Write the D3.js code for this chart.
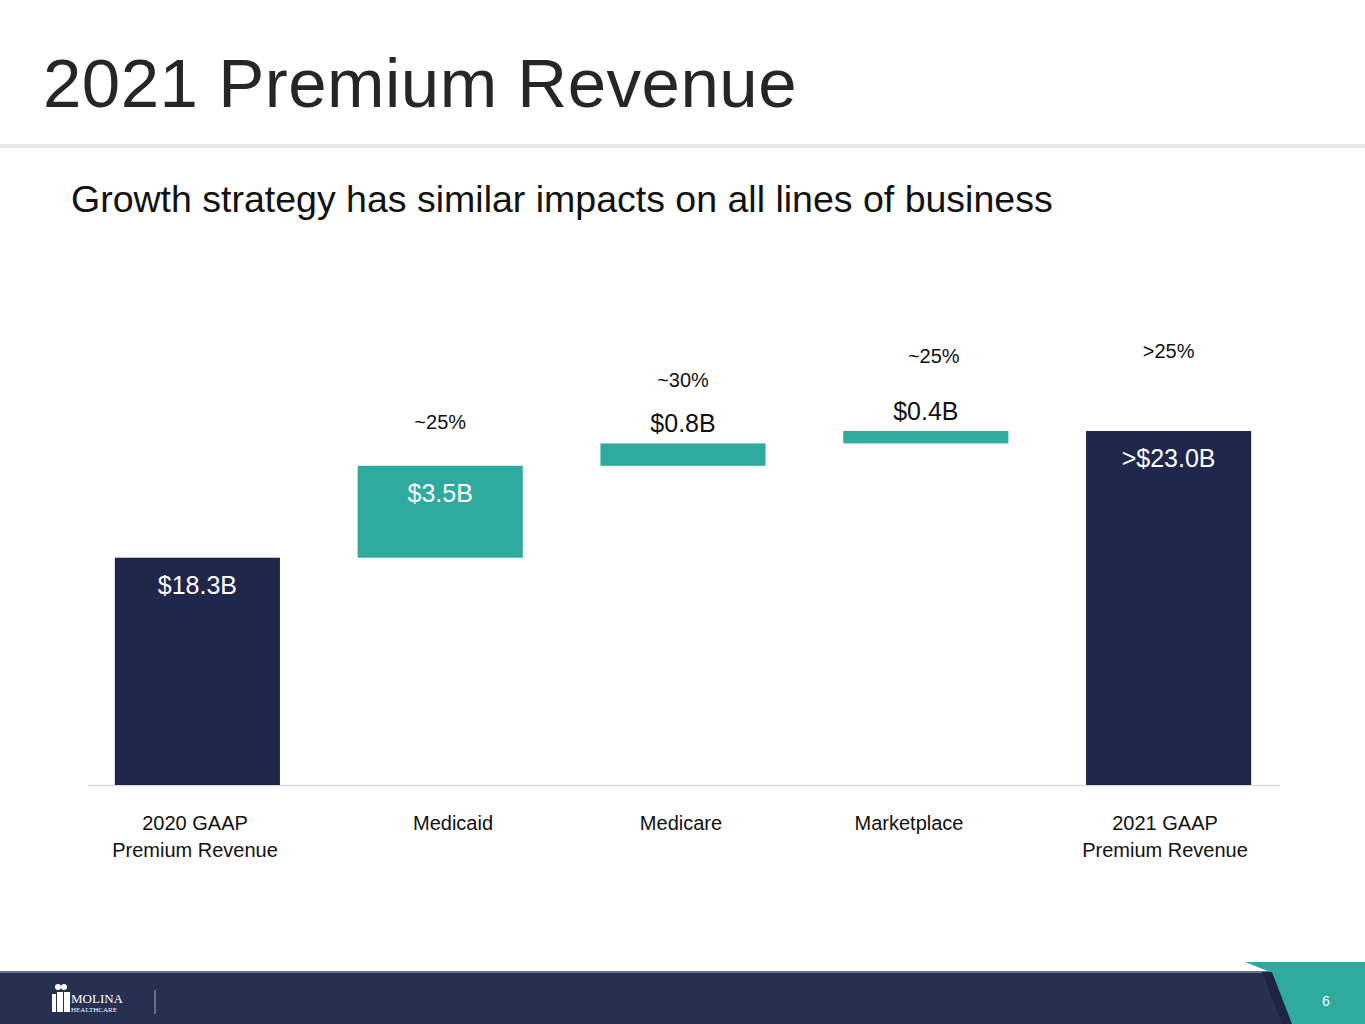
<!DOCTYPE html>
<html>
<head>
<script src="https://d3js.org/d3.v7.min.js"></script>
<style>
body { margin: 0; background: #fff; font-family: "Liberation Sans", Arial, sans-serif; }
</style>
</head>
<body>
<svg id="chart" width="1365" height="1024"></svg>
<script>
// chart data (bar geometry is estimated from the slide, which is not drawn to scale)
var categories = ["2020 GAAP|Premium Revenue", "Medicaid", "Medicare", "Marketplace", "2021 GAAP|Premium Revenue"];
var barBase = [0, 18.3, 25.7, 27.5, 0];
var barTop = [18.3, 25.7, 27.5, 28.5, 28.5];
var valueLabels = ["$18.3B", "$3.5B", "$0.8B", "$0.4B", ">$23.0B"];
var growthLabels = ["", "~25%", "~30%", "~25%", ">25%"];
var isTotal = [true, false, false, false, true];

var svg = d3.select("#chart");
var navy = "#1f274b", teal = "#2eaa9f";

// header
svg.append("text").attr("x", 43).attr("y", 107).attr("font-size", 69).attr("fill", "#262626")
  .attr("letter-spacing", 0.5).text("2021 Premium Revenue");
svg.append("rect").attr("x", 0).attr("y", 144).attr("width", 1365).attr("height", 4).attr("fill", "#e8e8e8");
svg.append("text").attr("x", 71).attr("y", 212).attr("font-size", 37.5).attr("fill", "#111")
  .text("Growth strategy has similar impacts on all lines of business");

// scales
var x = d3.scaleBand().domain(d3.range(categories.length)).range([76, 1290]).paddingInner(0.32).paddingOuter(0.16);
var y = d3.scaleLinear().domain([0, 28.5]).range([785, 431]);

svg.append("line").attr("x1", 88).attr("x2", 1280).attr("y1", 785.5).attr("y2", 785.5)
  .attr("stroke", "#d9d9d9").attr("stroke-width", 1.5);

var g = svg.selectAll(".bar").data(categories).enter().append("g");
g.append("rect")
  .attr("x", function(d, i) { return x(i); })
  .attr("width", x.bandwidth())
  .attr("y", function(d, i) { return y(barTop[i]); })
  .attr("height", function(d, i) { return y(barBase[i]) - y(barTop[i]); })
  .attr("fill", function(d, i) { return isTotal[i] ? navy : teal; });

// value labels: inside for tall bars, above for thin bars
g.append("text")
  .attr("x", function(d, i) { return x(i) + x.bandwidth() / 2; })
  .attr("y", function(d, i) {
    var h = y(barBase[i]) - y(barTop[i]);
    return h > 50 ? y(barTop[i]) + 36 : y(barTop[i]) - 11;
  })
  .attr("text-anchor", "middle").attr("font-size", 25)
  .attr("fill", function(d, i) { return (y(barBase[i]) - y(barTop[i])) > 50 ? "#fff" : "#111"; })
  .text(function(d, i) { return valueLabels[i]; });

var growthY = [0, 429, 387, 363, 358];
g.append("text")
  .attr("x", function(d, i) { return x(i) + x.bandwidth() / 2 + (i === 3 ? 8 : 0); })
  .attr("y", function(d, i) { return growthY[i]; })
  .attr("text-anchor", "middle").attr("font-size", 20).attr("fill", "#111")
  .text(function(d, i) { return growthLabels[i]; });

// category labels
var labelX = [195, 453, 681, 909, 1165];
g.each(function(d, i) {
  var t = d3.select(this).append("text").attr("text-anchor", "middle").attr("font-size", 20).attr("fill", "#111");
  d.split("|").forEach(function(line, k) {
    t.append("tspan").attr("x", labelX[i]).attr("y", 830 + k * 27).text(line);
  });
});

// footer
svg.append("rect").attr("x", 0).attr("y", 972).attr("width", 1365).attr("height", 52).attr("fill", "#283052");
svg.append("rect").attr("x", 0).attr("y", 971).attr("width", 1365).attr("height", 2).attr("fill", "#6a7090");
svg.append("polygon").attr("points", "1245,962 1365,962 1365,1024 1290,1024 1270,972").attr("fill", teal);
svg.append("polygon").attr("points", "1262,972 1272,972 1292,1024 1282,1024").attr("fill", "#1e2442");
svg.append("text").attr("x", 1326).attr("y", 1006).attr("font-size", 14).attr("fill", "#fff")
  .attr("text-anchor", "middle").text("6");
var logo = svg.append("g").attr("fill", "#fff");
logo.append("circle").attr("cx", 58).attr("cy", 987).attr("r", 3);
logo.append("circle").attr("cx", 64).attr("cy", 987).attr("r", 3);
logo.append("rect").attr("x", 52).attr("y", 994).attr("width", 4).attr("height", 18);
logo.append("rect").attr("x", 57).attr("y", 992).attr("width", 6).attr("height", 20);
logo.append("rect").attr("x", 64).attr("y", 992).attr("width", 6).attr("height", 20);
logo.append("text").attr("x", 71).attr("y", 1003).attr("font-size", 13).attr("font-family", "Liberation Serif").text("MOLINA");
logo.append("text").attr("x", 71).attr("y", 1012).attr("font-size", 7).attr("font-family", "Liberation Serif").text("HEALTHCARE");
svg.append("line").attr("x1", 155).attr("x2", 155).attr("y1", 990).attr("y2", 1014).attr("stroke", "#aaa");
</script>
</body>
</html>
